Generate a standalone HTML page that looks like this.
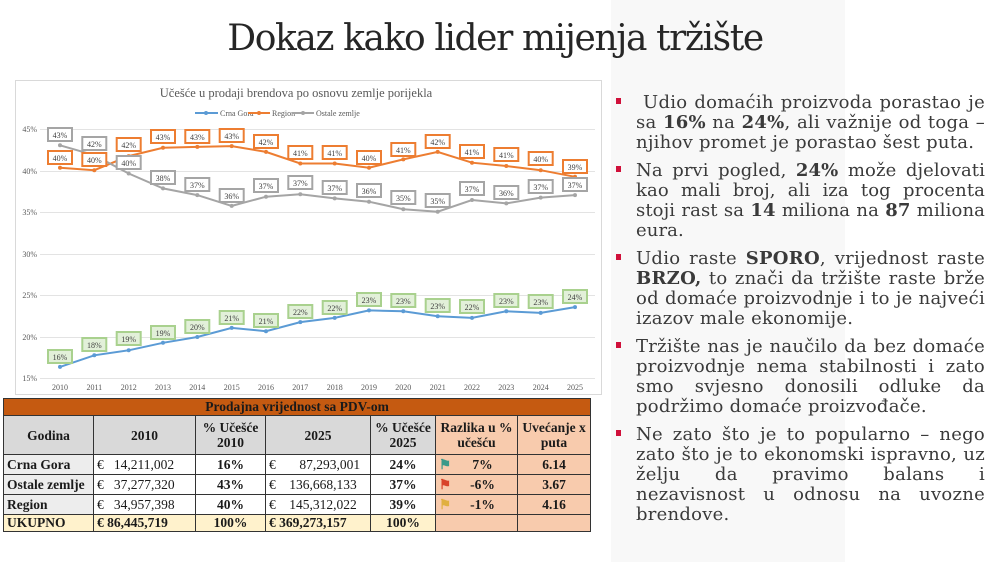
<!DOCTYPE html>
<html><head><meta charset="utf-8"><style>
body{margin:0;width:1000px;height:562px;background:#fff;position:relative;overflow:hidden;font-family:"Liberation Serif",serif}
#panel{position:absolute;left:611px;top:0;width:234px;height:562px;background:#f8f8f8}
h1{position:absolute;left:0;width:990px;top:18px;margin:0;text-align:center;font-weight:normal;font-size:36px;color:#262626;font-family:"DejaVu Serif","Liberation Serif",serif;letter-spacing:-1.4px}
#txt{position:absolute;left:612px;top:93px;width:373px;color:#3a3a3a;font-family:"DejaVu Serif","Liberation Serif",serif;font-size:18px;line-height:20px;letter-spacing:0.25px}
#txt p{margin:0 0 8px 24px;text-align:justify;position:relative}
#txt p:before{content:"";position:absolute;left:-20px;top:5px;width:5px;height:6px;background:#d0103a}
table{position:absolute;left:3px;top:398px;border-collapse:collapse;font-family:"Liberation Serif",serif;font-size:13.5px;font-weight:bold;color:#1a1a1a;width:587px;table-layout:fixed}
td{border:1px solid #333;padding:0 3px;height:19px;white-space:nowrap;overflow:hidden}
.t{background:#c55a11;text-align:center;height:16px}
.h td{background:#d9d9d9;text-align:center;height:38px;line-height:15px}
.h td.o{background:#f8cbad}
td.g{background:#ededed}
td.w{background:#fff;font-weight:normal}
td.o{background:#f8cbad;text-align:center}
td.c{text-align:center;background:#fff}
.u td{background:#fff2cc;height:16px}
</style></head><body>
<div id="panel"></div>
<h1>Dokaz kako lider mijenja tržište</h1>
<svg style="position:absolute;left:0;top:0" width="610" height="400">
<rect x="15.5" y="80.5" width="586" height="314" fill="#fff" stroke="#d9d9d9"/>
<text x="296" y="97" text-anchor="middle" font-family="Liberation Serif" font-size="12.5" fill="#595959">Učešće u prodaji brendova po osnovu zemlje porijekla</text>
<g font-family="Liberation Serif" font-size="8" fill="#595959">
<line x1="195" y1="113" x2="218" y2="113" stroke="#5b9bd5" stroke-width="2"/><circle cx="206" cy="113" r="2" fill="#5b9bd5"/><text x="220" y="116">Crna Gora</text>
<line x1="248" y1="113" x2="270" y2="113" stroke="#ed7d31" stroke-width="2"/><circle cx="259" cy="113" r="2" fill="#ed7d31"/><text x="272" y="116">Region</text>
<line x1="292" y1="113" x2="314" y2="113" stroke="#a5a5a5" stroke-width="2"/><circle cx="303" cy="113" r="2" fill="#a5a5a5"/><text x="316" y="116">Ostale zemlje</text>
</g>
<g stroke="#e3e3e3" stroke-width="1">
<line x1="40" y1="129.5" x2="595" y2="129.5"/><line x1="40" y1="171.5" x2="595" y2="171.5"/><line x1="40" y1="212.5" x2="595" y2="212.5"/><line x1="40" y1="254.5" x2="595" y2="254.5"/><line x1="40" y1="295.5" x2="595" y2="295.5"/><line x1="40" y1="337.5" x2="595" y2="337.5"/><line x1="40" y1="378.5" x2="595" y2="378.5"/>
</g>
<g font-family="Liberation Serif" font-size="8" fill="#595959" text-anchor="end">
<text x="37" y="132">45%</text><text x="37" y="174">40%</text><text x="37" y="215">35%</text><text x="37" y="257">30%</text><text x="37" y="298">25%</text><text x="37" y="340">20%</text><text x="37" y="381">15%</text>
</g>
<g font-family="Liberation Serif" font-size="8" fill="#595959" text-anchor="middle">
<text x="60" y="390">2010</text><text x="94.3" y="390">2011</text><text x="128.7" y="390">2012</text><text x="163" y="390">2013</text><text x="197.3" y="390">2014</text><text x="231.7" y="390">2015</text><text x="266" y="390">2016</text><text x="300.3" y="390">2017</text><text x="334.7" y="390">2018</text><text x="369" y="390">2019</text><text x="403.3" y="390">2020</text><text x="437.7" y="390">2021</text><text x="472" y="390">2022</text><text x="506.3" y="390">2023</text><text x="540.7" y="390">2024</text><text x="575" y="390">2025</text>
</g>
<polyline fill="none" stroke="#5b9bd5" stroke-width="2" points="60,366.9 94.3,355.3 128.7,350.3 163,342.8 197.3,337 231.7,327.9 266,331.2 300.3,322.1 334.7,317.9 369,310.4 403.3,311.3 437.7,316.3 472,317.9 506.3,311.3 540.7,312.9 575,307.1"/>
<polyline fill="none" stroke="#ed7d31" stroke-width="2" points="60,167.7 94.3,170.2 128.7,156.1 163,147.8 197.3,146.9 231.7,146.1 266,151.9 300.3,163.5 334.7,163.5 369,167.7 403.3,159.4 437.7,151.9 472,162.7 506.3,166 540.7,170.2 575,176.8"/>
<polyline fill="none" stroke="#a5a5a5" stroke-width="2" points="60,145.3 94.3,155.2 128.7,173.5 163,188.4 197.3,195.1 231.7,205.9 266,196.7 300.3,194.2 334.7,198.4 369,201.7 403.3,209.2 437.7,211.7 472,200 506.3,203.4 540.7,197.6 575,195.1"/>
<g fill="#5b9bd5"><circle cx="60" cy="366.9" r="2"/><circle cx="94.3" cy="355.3" r="2"/><circle cx="128.7" cy="350.3" r="2"/><circle cx="163" cy="342.8" r="2"/><circle cx="197.3" cy="337" r="2"/><circle cx="231.7" cy="327.9" r="2"/><circle cx="266" cy="331.2" r="2"/><circle cx="300.3" cy="322.1" r="2"/><circle cx="334.7" cy="317.9" r="2"/><circle cx="369" cy="310.4" r="2"/><circle cx="403.3" cy="311.3" r="2"/><circle cx="437.7" cy="316.3" r="2"/><circle cx="472" cy="317.9" r="2"/><circle cx="506.3" cy="311.3" r="2"/><circle cx="540.7" cy="312.9" r="2"/><circle cx="575" cy="307.1" r="2"/></g>
<g fill="#ed7d31"><circle cx="60" cy="167.7" r="2"/><circle cx="94.3" cy="170.2" r="2"/><circle cx="128.7" cy="156.1" r="2"/><circle cx="163" cy="147.8" r="2"/><circle cx="197.3" cy="146.9" r="2"/><circle cx="231.7" cy="146.1" r="2"/><circle cx="266" cy="151.9" r="2"/><circle cx="300.3" cy="163.5" r="2"/><circle cx="334.7" cy="163.5" r="2"/><circle cx="369" cy="167.7" r="2"/><circle cx="403.3" cy="159.4" r="2"/><circle cx="437.7" cy="151.9" r="2"/><circle cx="472" cy="162.7" r="2"/><circle cx="506.3" cy="166" r="2"/><circle cx="540.7" cy="170.2" r="2"/><circle cx="575" cy="176.8" r="2"/></g>
<g fill="#a5a5a5"><circle cx="60" cy="145.3" r="2"/><circle cx="94.3" cy="155.2" r="2"/><circle cx="128.7" cy="173.5" r="2"/><circle cx="163" cy="188.4" r="2"/><circle cx="197.3" cy="195.1" r="2"/><circle cx="231.7" cy="205.9" r="2"/><circle cx="266" cy="196.7" r="2"/><circle cx="300.3" cy="194.2" r="2"/><circle cx="334.7" cy="198.4" r="2"/><circle cx="369" cy="201.7" r="2"/><circle cx="403.3" cy="209.2" r="2"/><circle cx="437.7" cy="211.7" r="2"/><circle cx="472" cy="200" r="2"/><circle cx="506.3" cy="203.4" r="2"/><circle cx="540.7" cy="197.6" r="2"/><circle cx="575" cy="195.1" r="2"/></g>
<g font-family="Liberation Serif" font-size="8" fill="#404040" text-anchor="middle">
<g stroke="#ed7d31" stroke-width="2" fill="#fff"><rect x="48" y="151" width="24" height="13"/><rect x="82.3" y="153" width="24" height="13"/><rect x="116.7" y="138" width="24" height="13"/><rect x="151" y="130" width="24" height="13"/><rect x="185.3" y="130" width="24" height="13"/><rect x="219.7" y="129" width="24" height="13"/><rect x="254" y="135" width="24" height="13"/><rect x="288.3" y="146" width="24" height="13"/><rect x="322.7" y="146" width="24" height="13"/><rect x="357" y="151" width="24" height="13"/><rect x="391.3" y="143" width="24" height="13"/><rect x="425.7" y="135" width="24" height="13"/><rect x="460" y="145" width="24" height="13"/><rect x="494.3" y="148" width="24" height="13"/><rect x="528.7" y="152" width="24" height="13"/><rect x="563" y="160" width="24" height="13"/></g>
<text x="60" y="161">40%</text><text x="94.3" y="163">40%</text><text x="128.7" y="148">42%</text><text x="163" y="140">43%</text><text x="197.3" y="140">43%</text><text x="231.7" y="139">43%</text><text x="266" y="145">42%</text><text x="300.3" y="156">41%</text><text x="334.7" y="156">41%</text><text x="369" y="161">40%</text><text x="403.3" y="153">41%</text><text x="437.7" y="145">42%</text><text x="472" y="155">41%</text><text x="506.3" y="158">41%</text><text x="540.7" y="162">40%</text><text x="575" y="170">39%</text>
<g stroke="#a5a5a5" stroke-width="2" fill="#fff"><rect x="48" y="128" width="24" height="13"/><rect x="82.3" y="137" width="24" height="13"/><rect x="116.7" y="156" width="24" height="13"/><rect x="151" y="171" width="24" height="13"/><rect x="185.3" y="178" width="24" height="13"/><rect x="219.7" y="189" width="24" height="13"/><rect x="254" y="179" width="24" height="13"/><rect x="288.3" y="176" width="24" height="13"/><rect x="322.7" y="181" width="24" height="13"/><rect x="357" y="184" width="24" height="13"/><rect x="391.3" y="191" width="24" height="13"/><rect x="425.7" y="194" width="24" height="13"/><rect x="460" y="182" width="24" height="13"/><rect x="494.3" y="186" width="24" height="13"/><rect x="528.7" y="180" width="24" height="13"/><rect x="563" y="178" width="24" height="13"/></g>
<text x="60" y="138">43%</text><text x="94.3" y="147">42%</text><text x="128.7" y="166">40%</text><text x="163" y="181">38%</text><text x="197.3" y="188">37%</text><text x="231.7" y="199">36%</text><text x="266" y="189">37%</text><text x="300.3" y="186">37%</text><text x="334.7" y="191">37%</text><text x="369" y="194">36%</text><text x="403.3" y="201">35%</text><text x="437.7" y="204">35%</text><text x="472" y="192">37%</text><text x="506.3" y="196">36%</text><text x="540.7" y="190">37%</text><text x="575" y="188">37%</text>
<g stroke="#a9d18e" stroke-width="2" fill="#e2f0d9"><rect x="48" y="350" width="24" height="13"/><rect x="82.3" y="338" width="24" height="13"/><rect x="116.7" y="332" width="24" height="13"/><rect x="151" y="326" width="24" height="13"/><rect x="185.3" y="320" width="24" height="13"/><rect x="219.7" y="311" width="24" height="13"/><rect x="254" y="314" width="24" height="13"/><rect x="288.3" y="305" width="24" height="13"/><rect x="322.7" y="301" width="24" height="13"/><rect x="357" y="293" width="24" height="13"/><rect x="391.3" y="294" width="24" height="13"/><rect x="425.7" y="299" width="24" height="13"/><rect x="460" y="300" width="24" height="13"/><rect x="494.3" y="294" width="24" height="13"/><rect x="528.7" y="295" width="24" height="13"/><rect x="563" y="290" width="24" height="13"/></g>
<text x="60" y="360">16%</text><text x="94.3" y="348">18%</text><text x="128.7" y="342">19%</text><text x="163" y="336">19%</text><text x="197.3" y="330">20%</text><text x="231.7" y="321">21%</text><text x="266" y="324">21%</text><text x="300.3" y="315">22%</text><text x="334.7" y="311">22%</text><text x="369" y="303">23%</text><text x="403.3" y="304">23%</text><text x="437.7" y="309">23%</text><text x="472" y="310">22%</text><text x="506.3" y="304">23%</text><text x="540.7" y="305">23%</text><text x="575" y="300">24%</text>
</g>
</svg>
<table>
<colgroup><col style="width:90px"><col style="width:102px"><col style="width:70px"><col style="width:105px"><col style="width:65px"><col style="width:82px"><col style="width:73px"></colgroup>
<tr><td class="t" colspan="7">Prodajna vrijednost sa PDV-om</td></tr>
<tr class="h"><td>Godina</td><td>2010</td><td>% Učešće<br>2010</td><td>2025</td><td>% Učešće<br>2025</td><td class="o">Razlika u %<br>učešću</td><td class="o">Uvećanje x<br>puta</td></tr>
<tr><td class="g">Crna Gora</td><td class="w">€&nbsp;&nbsp;&nbsp;14,211,002</td><td class="c">16%</td><td class="w">€&nbsp;&nbsp;&nbsp;&nbsp;&nbsp;&nbsp;&nbsp;87,293,001</td><td class="c">24%</td><td class="o"><span style="color:#3a9a8a;float:left">⚑</span>7%</td><td class="o">6.14</td></tr>
<tr><td class="g">Ostale zemlje</td><td class="w">€&nbsp;&nbsp;&nbsp;37,277,320</td><td class="c">43%</td><td class="w">€&nbsp;&nbsp;&nbsp;&nbsp;136,668,133</td><td class="c">37%</td><td class="o"><span style="color:#d9442a;float:left">⚑</span>-6%</td><td class="o">3.67</td></tr>
<tr><td class="g">Region</td><td class="w">€&nbsp;&nbsp;&nbsp;34,957,398</td><td class="c">40%</td><td class="w">€&nbsp;&nbsp;&nbsp;&nbsp;145,312,022</td><td class="c">39%</td><td class="o"><span style="color:#e0b040;float:left">⚑</span>-1%</td><td class="o">4.16</td></tr>
<tr class="u"><td>UKUPNO</td><td>€ 86,445,719</td><td style="text-align:center">100%</td><td>€ 369,273,157</td><td style="text-align:center">100%</td><td style="background:#f8cbad"></td><td style="background:#f8cbad"></td></tr>
</table>
<div id="txt">
<p>&nbsp;Udio domaćih proizvoda porastao je sa <b>16%</b> na <b>24%</b>, ali važnije od toga – njihov promet je porastao šest puta.</p>
<p style="letter-spacing:0.1px">Na prvi pogled, <b>24%</b> može djelovati kao mali broj, ali iza tog procenta stoji rast sa <b>14</b> miliona na <b>87</b> miliona eura.</p>
<p>Udio raste <b>SPORO</b>, vrijednost raste <b>BRZO,</b> to znači da tržište raste brže od domaće proizvodnje i to je najveći izazov male ekonomije.</p>
<p>Tržište nas je naučilo da bez domaće proizvodnje nema stabilnosti i zato smo svjesno donosili odluke da podržimo domaće proizvođače.</p>
<p>Ne zato što je to popularno – nego zato što je to ekonomski ispravno, uz želju da pravimo balans i nezavisnost u odnosu na uvozne brendove.</p>
</div>
</body></html>
